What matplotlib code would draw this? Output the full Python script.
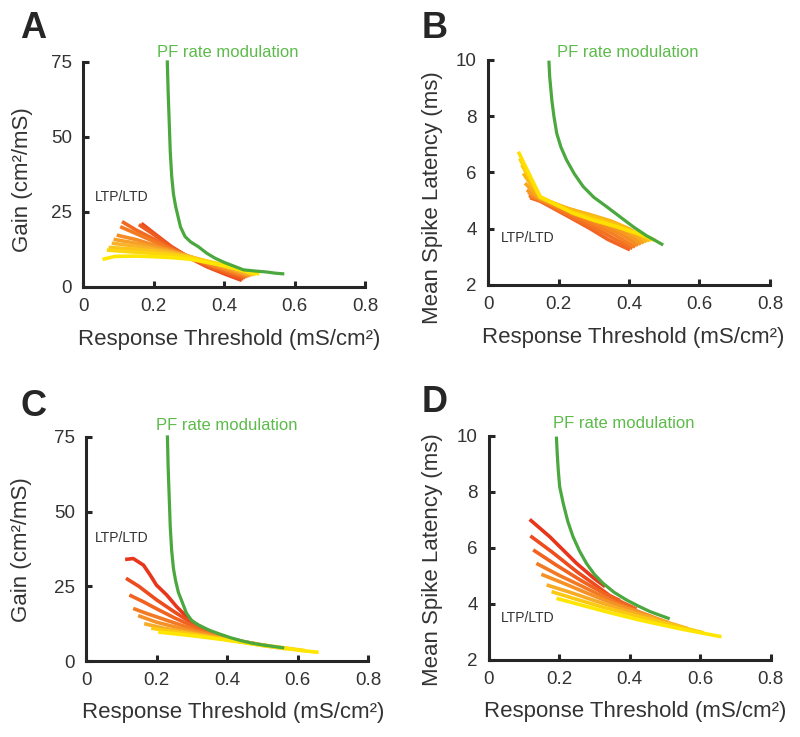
import numpy as np
import matplotlib
matplotlib.use("Agg")
import matplotlib.pyplot as plt
from matplotlib.colors import LinearSegmentedColormap

plt.rcParams["font.family"] = ["Liberation Sans", "DejaVu Sans"]

# ---------------- data ----------------
x_ticks = [0, 0.2, 0.4, 0.6, 0.8]
x_ticklabels = ["0", "0.2", "0.4", "0.6", "0.8"]
gain_ticks = [0, 25, 50, 75]
lat_ticks = [2, 4, 6, 8, 10]

# Panel A: PF rate modulation (green) and LTP/LTD fan (red -> yellow)
a_green_x = [0.2386, 0.241, 0.244, 0.247, 0.251, 0.256, 0.262, 0.268, 0.276, 0.289,
             0.305, 0.327, 0.35, 0.374, 0.40, 0.431, 0.455, 0.49, 0.52, 0.545, 0.566]
a_green_y = [75, 65, 55, 45, 37, 31, 27, 24, 20, 16.8,
             15, 13.4, 11.3, 9.6, 8.2, 6.8, 5.7, 5.3, 5.0, 4.6, 4.4]
a_fan_x = [
    [0.165, 0.2, 0.25, 0.30, 0.35, 0.40, 0.45],
    [0.158, 0.2, 0.25, 0.30, 0.35, 0.40, 0.455],
    [0.11, 0.15, 0.2, 0.25, 0.30, 0.36, 0.41, 0.46],
    [0.105, 0.15, 0.2, 0.25, 0.30, 0.36, 0.42, 0.465],
    [0.095, 0.15, 0.2, 0.25, 0.30, 0.36, 0.42, 0.47],
    [0.086, 0.15, 0.2, 0.25, 0.30, 0.37, 0.43, 0.475],
    [0.081, 0.15, 0.2, 0.25, 0.30, 0.37, 0.43, 0.48],
    [0.072, 0.15, 0.2, 0.25, 0.30, 0.37, 0.44, 0.485],
    [0.067, 0.15, 0.2, 0.25, 0.30, 0.38, 0.44, 0.49],
    [0.055, 0.09, 0.15, 0.2, 0.25, 0.30, 0.38, 0.44, 0.50],
]
a_fan_y = [
    [21.2, 18, 13.5, 9.8, 6.8, 4.4, 2.2],
    [20.8, 17.5, 13.3, 9.9, 7.0, 4.8, 2.7],
    [21.8, 19, 16, 12.8, 10, 7, 4.9, 3.1],
    [20.1, 17.8, 15.2, 12.5, 10.1, 7.3, 5.0, 3.4],
    [17.3, 15.8, 14, 12.2, 10.2, 7.6, 5.3, 3.6],
    [15.9, 14.6, 13.3, 11.9, 10.2, 7.7, 5.5, 3.8],
    [14.6, 13.6, 12.6, 11.5, 10.2, 7.9, 5.8, 4.0],
    [13.2, 12.6, 12, 11.1, 10.1, 8, 5.9, 4.1],
    [12.3, 11.6, 11.2, 10.6, 9.9, 7.9, 6, 4.2],
    [9.2, 10.2, 10.3, 10.1, 9.8, 9.3, 7.6, 5.9, 4.3],
]

# Panel B
b_green_x = [0.173, 0.175, 0.178, 0.181, 0.187, 0.195, 0.207, 0.223, 0.245, 0.270,
             0.30, 0.337, 0.375, 0.412, 0.45, 0.475, 0.493]
b_green_y = [9.92, 9.4, 9.0, 8.58, 8.0, 7.39, 6.9, 6.44, 5.95, 5.5,
             5.12, 4.78, 4.42, 4.07, 3.75, 3.58, 3.45]
b_fan_x = [
    [0.12, 0.148, 0.176, 0.23, 0.289, 0.34, 0.384, 0.403],
    [0.118, 0.148, 0.18, 0.24, 0.30, 0.35, 0.395, 0.41],
    [0.116, 0.148, 0.19, 0.25, 0.31, 0.36, 0.40, 0.418],
    [0.114, 0.148, 0.2, 0.26, 0.32, 0.37, 0.41, 0.426],
    [0.11, 0.148, 0.21, 0.27, 0.33, 0.38, 0.42, 0.434],
    [0.105, 0.148, 0.22, 0.28, 0.34, 0.39, 0.43, 0.442],
    [0.1, 0.148, 0.23, 0.29, 0.35, 0.40, 0.44, 0.45],
    [0.096, 0.148, 0.24, 0.30, 0.36, 0.41, 0.45, 0.458],
    [0.09, 0.148, 0.242, 0.30, 0.365, 0.42, 0.46, 0.465],
    [0.086, 0.148, 0.242, 0.30, 0.365, 0.42, 0.45, 0.475],
]
b_fan_y = [
    [5.1, 4.98, 4.79, 4.42, 4.01, 3.62, 3.36, 3.25],
    [5.15, 5.0, 4.8, 4.42, 4.05, 3.7, 3.4, 3.3],
    [5.2, 5.02, 4.78, 4.45, 4.1, 3.78, 3.48, 3.35],
    [5.3, 5.04, 4.77, 4.48, 4.15, 3.85, 3.55, 3.4],
    [5.38, 5.06, 4.76, 4.5, 4.2, 3.9, 3.6, 3.44],
    [5.62, 5.08, 4.75, 4.52, 4.25, 3.95, 3.65, 3.48],
    [5.97, 5.1, 4.7, 4.5, 4.27, 4.0, 3.7, 3.52],
    [6.27, 5.12, 4.6, 4.4, 4.15, 3.9, 3.68, 3.55],
    [6.5, 5.13, 4.56, 4.32, 4.08, 3.85, 3.65, 3.57],
    [6.74, 5.14, 4.55, 4.3, 4.07, 3.85, 3.72, 3.58],
]

# Panel C
c_green_x = [0.231, 0.233, 0.236, 0.239, 0.243, 0.248, 0.254, 0.262, 0.272, 0.285,
             0.30, 0.32, 0.35, 0.38, 0.41, 0.44, 0.47, 0.50, 0.53, 0.558]
c_green_y = [75, 65, 55, 45, 37, 31, 27, 23, 20, 16,
             13.5, 12, 10.3, 9, 7.8, 6.8, 6.0, 5.4, 4.9, 4.45]
c_fan_x = [
    [0.111, 0.134, 0.163, 0.182, 0.2, 0.229, 0.257, 0.286, 0.31, 0.34, 0.36],
    [0.1135, 0.15, 0.2, 0.25, 0.29, 0.33, 0.37, 0.40],
    [0.123, 0.16, 0.2, 0.25, 0.3, 0.35, 0.4, 0.44],
    [0.134, 0.17, 0.22, 0.27, 0.32, 0.38, 0.43, 0.48],
    [0.148, 0.2, 0.25, 0.3, 0.36, 0.42, 0.47, 0.52],
    [0.165, 0.22, 0.28, 0.34, 0.4, 0.46, 0.52, 0.57],
    [0.185, 0.24, 0.3, 0.36, 0.42, 0.48, 0.55, 0.62],
    [0.205, 0.26, 0.32, 0.38, 0.44, 0.5, 0.56, 0.62, 0.66],
]
c_fan_y = [
    [34.0, 34.3, 32.1, 28.8, 25.4, 22.1, 18.2, 14.8, 12.5, 10.5, 9.5],
    [27.7, 25, 20.5, 16.5, 13.5, 11, 9, 8],
    [22.1, 20, 17.5, 14.5, 11.8, 9.5, 7.8, 6.7],
    [17.6, 16, 14, 12, 10, 8.2, 6.8, 5.8],
    [15.2, 13, 11.5, 10, 8.5, 7, 6, 5],
    [12.5, 11, 9.8, 8.5, 7.2, 6, 4.9, 4.1],
    [11, 10, 9, 7.9, 6.8, 5.7, 4.6, 3.5],
    [9.7, 9, 8.2, 7.3, 6.3, 5.2, 4.3, 3.4, 2.9],
]

# Panel D
d_green_x = [0.192, 0.194, 0.197, 0.201, 0.211, 0.224, 0.239, 0.257, 0.277, 0.30,
             0.324, 0.355, 0.391, 0.425, 0.457, 0.485, 0.509]
d_green_y = [9.92, 9.4, 8.79, 8.19, 7.6, 6.95, 6.4, 5.9, 5.45, 5.05,
             4.74, 4.42, 4.14, 3.92, 3.73, 3.6, 3.49]
d_fan_x = [
    [0.116, 0.173, 0.249, 0.30, 0.33],
    [0.118, 0.18, 0.25, 0.30, 0.343, 0.372],
    [0.126, 0.19, 0.26, 0.33, 0.38, 0.419],
    [0.135, 0.2, 0.27, 0.35, 0.41, 0.466],
    [0.149, 0.21, 0.28, 0.36, 0.44, 0.513],
    [0.164, 0.23, 0.3, 0.38, 0.47, 0.565],
    [0.178, 0.24, 0.32, 0.41, 0.51, 0.61],
    [0.192, 0.26, 0.34, 0.43, 0.54, 0.66],
]
d_fan_y = [
    [7.02, 6.4, 5.45, 4.9, 4.62],
    [6.43, 5.85, 5.15, 4.7, 4.3, 4.12],
    [5.93, 5.4, 4.85, 4.35, 4.05, 3.82],
    [5.45, 5.02, 4.6, 4.1, 3.8, 3.52],
    [5.06, 4.75, 4.38, 3.98, 3.65, 3.32],
    [4.68, 4.42, 4.12, 3.8, 3.48, 3.12],
    [4.44, 4.2, 3.9, 3.6, 3.28, 2.97],
    [4.2, 3.97, 3.7, 3.42, 3.12, 2.83],
]

# ---------------- styling ----------------
green_line = "#4aa83e"
green_text = "#5cbb4a"
dark = "#262626"
fan_cmap = LinearSegmentedColormap.from_list(
    "fan", ["#e8361c", "#f26a21", "#f7a12a", "#ffe600"])
fan_cmap_a = LinearSegmentedColormap.from_list(
    "fana", ["#ec4a1e", "#f47a22", "#f9b22a", "#ffe600"])
fan_cmap_b = LinearSegmentedColormap.from_list(
    "fanb", ["#f26522", "#f8a020", "#ffe000"])

fig = plt.figure(figsize=(8, 7.37), dpi=100)

panels = [
    # letter, rect, green, fan, cmap, ylim, yticks, ylabel, pf text, ltp text, label coords, letter px
    ("A", [0.104, 0.6106, 0.3525, 0.3053], (a_green_x, a_green_y), (a_fan_x, a_fan_y),
     fan_cmap_a, (0, 75), gain_ticks, "Gain (cm²/mS)", (0.209, 78.1), (0.108, 30),
     (-0.216, 0.476), (0.516, -0.235), (20, 38)),
    ("B", [0.61, 0.6133, 0.3525, 0.3053], (b_green_x, b_green_y), (b_fan_x, b_fan_y),
     fan_cmap_b, (2, 10), lat_ticks, "Mean Spike Latency (ms)", (0.195, 10.26), (0.112, 3.66),
     (-0.197, 0.39), (0.516, -0.235), (422, 38)),
    ("C", [0.1075, 0.1031, 0.3525, 0.304], (c_green_x, c_green_y), (c_fan_x, c_fan_y),
     fan_cmap, (0, 75), gain_ticks, "Gain (cm²/mS)", (0.2, 78.7), (0.1, 41.1),
     (-0.227, 0.496), (0.523, -0.232), (21, 416)),
    ("D", [0.611, 0.1045, 0.3525, 0.304], (d_green_x, d_green_y), (d_fan_x, d_fan_y),
     fan_cmap, (2, 10), lat_ticks, "Mean Spike Latency (ms)", (0.182, 10.45), (0.11, 3.49),
     (-0.2, 0.446), (0.518, -0.232), (422, 412)),
]

for (letter, rect, green, fan, cmap, ylim, yticks, ylabel,
     pf_pos, ltp_pos, ylab_xy, xlab_xy, letter_px) in panels:
    ax = fig.add_axes(rect)
    n = len(fan[0])
    for i, (fx, fy) in enumerate(zip(*fan)):
        ax.plot(fx, fy, color=cmap(i / (n - 1)), linewidth=2.6,
                solid_capstyle="butt", zorder=2)
    ax.plot(green[0], green[1], color=green_line, linewidth=2.3, zorder=3, clip_on=False)

    ax.set_xlim(0, 0.8)
    ax.set_ylim(*ylim)
    ax.set_xticks(x_ticks)
    ax.set_xticklabels(x_ticklabels)
    ax.set_yticks(yticks)
    for s in ["top", "right"]:
        ax.spines[s].set_visible(False)
    for s in ["left", "bottom"]:
        ax.spines[s].set_linewidth(2.2)
        ax.spines[s].set_color(dark)
    ax.tick_params(direction="in", length=4, width=2.2, color=dark,
                   labelsize=13.5, labelcolor="#333333", pad=8)

    ax.set_ylabel(ylabel, fontsize=16, color="#333333", va="center")
    ax.yaxis.set_label_coords(*ylab_xy)
    ax.set_xlabel("Response Threshold (mS/cm²)", fontsize=16, color="#333333", va="center")
    ax.xaxis.set_label_coords(*xlab_xy)

    ax.text(pf_pos[0], pf_pos[1], "PF rate modulation", color=green_text,
            fontsize=12, ha="left", va="center", clip_on=False)
    ax.text(ltp_pos[0], ltp_pos[1], "LTP/LTD", color="#333333",
            fontsize=10, ha="center", va="center")

    fig.text(letter_px[0] / 800, 1 - letter_px[1] / 737, letter, fontsize=26,
             fontweight="bold", color=dark, ha="left", va="baseline")

fig.savefig("out.png", dpi=100)
